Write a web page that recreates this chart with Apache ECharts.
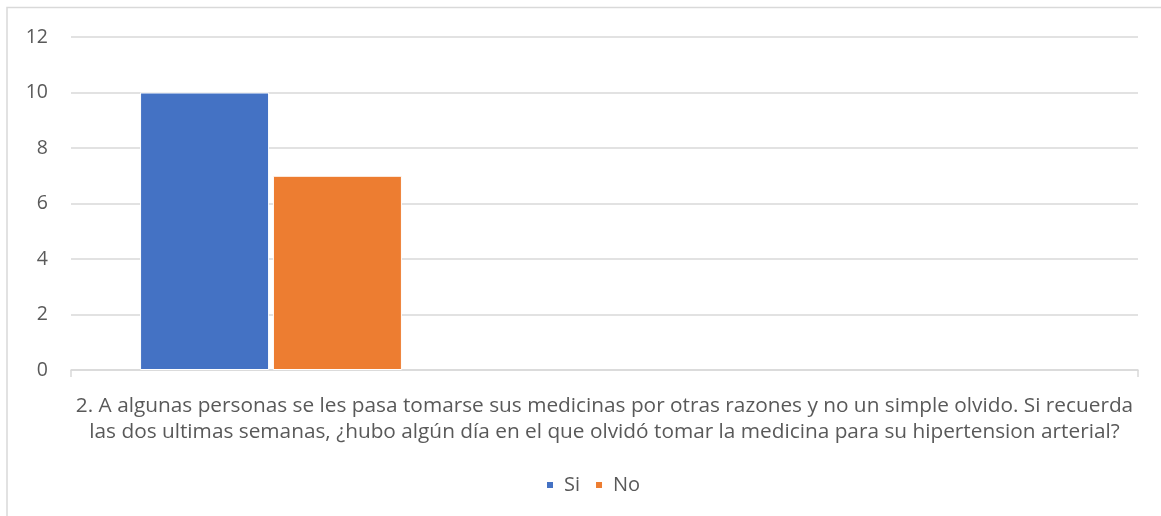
<!DOCTYPE html>
<html><head><meta charset="utf-8">
<script src="https://cdn.jsdelivr.net/npm/echarts@6/dist/echarts.min.js"></script>
<style>html,body{margin:0;padding:0;background:#fff}#c{width:1161px;height:516px}</style>
</head><body><div id="c"></div>
<script>
const categories = ["2. A algunas personas se les pasa tomarse sus medicinas por otras razones y no un simple olvido. Si recuerda\nlas dos ultimas semanas, ¿hubo algún día en el que olvidó tomar la medicina para su hipertension arterial?"];
const seriesNames = ["Si", "No"];
const siValues = [10];
const noValues = [7];
const yTicks = { min: 0, max: 12, interval: 2 };

const FONT = '"Open Sans", sans-serif';
const TXT = '#595959';
const chart = echarts.init(document.getElementById('c'), null, { renderer: 'canvas' });
chart.setOption({
  animation: false,
  textStyle: { fontFamily: FONT, color: TXT },
  graphic: [{ type: 'rect', shape: { x: 7, y: 7.5, width: 1300, height: 700 }, style: { fill: null, stroke: '#d9d9d9', lineWidth: 1.5 }, silent: true }],
  legend: {
    data: seriesNames, bottom: 16, left: 540, itemWidth: 8, itemHeight: 8, itemGap: 14,
    icon: 'rect', textStyle: { fontFamily: FONT, fontSize: 20, color: TXT, padding: [0, 0, 0, 5] }
  },
  grid: [
    { left: 71, right: 23, top: 37, bottom: 146, containLabel: false },
    { left: 140, width: 262, top: 37, bottom: 146, containLabel: false }
  ],
  xAxis: [
    { type: 'category', gridIndex: 0, data: categories,
      axisLine: { lineStyle: { color: '#d9d9d9', width: 1.5 } },
      axisTick: { show: true, alignWithLabel: false, length: 7, lineStyle: { color: '#d9d9d9', width: 1.5 } },
      axisLabel: { fontFamily: FONT, fontSize: 20.8, color: TXT, lineHeight: 26, margin: 23, interval: 0 } },
    { type: 'category', gridIndex: 1, data: categories, show: false }
  ],
  yAxis: [
    { type: 'value', gridIndex: 0, min: yTicks.min, max: yTicks.max, interval: yTicks.interval,
      axisLine: { show: false }, axisTick: { show: false },
      splitLine: { lineStyle: { color: '#d9d9d9', width: 1.5 } },
      axisLabel: { fontFamily: FONT, fontSize: 19.5, color: TXT, margin: 23 } },
    { type: 'value', gridIndex: 1, min: yTicks.min, max: yTicks.max, interval: yTicks.interval, show: false, splitLine: { show: false } }
  ],
  series: [
    { name: seriesNames[0], type: 'bar', xAxisIndex: 1, yAxisIndex: 1, data: siValues,
      barWidth: 129, barGap: '3%', itemStyle: { color: '#4472c4', borderColor: '#fff', borderWidth: 1 } },
    { name: seriesNames[1], type: 'bar', xAxisIndex: 1, yAxisIndex: 1, data: noValues,
      barWidth: 129, barGap: '3%', itemStyle: { color: '#ed7d31', borderColor: '#fff', borderWidth: 1 } }
  ]
});
</script></body></html>
